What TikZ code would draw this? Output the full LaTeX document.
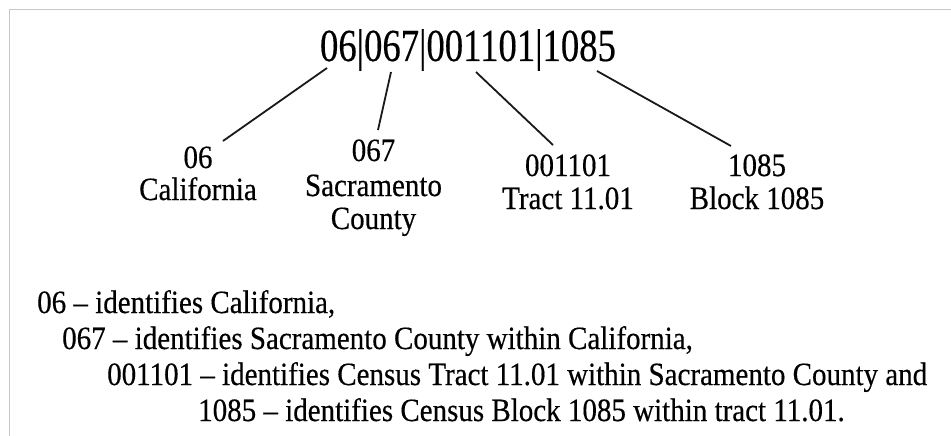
\documentclass[tikz,border=0pt]{standalone}
\usepackage{graphicx}
\usepackage{fontspec}
\setmainfont{Liberation Serif}[FakeBold=0.4]
\newcommand\vstretch[2]{\scalebox{1}[#1]{#2}}
\begin{document}
\begin{tikzpicture}[x=1pt,y=-1pt,
  lbl/.style={anchor=base,inner sep=0pt,font=\fontsize{29}{33}\selectfont},
  txt/.style={anchor=base west,inner sep=0pt,font=\fontsize{29}{33}\selectfont},
  conn/.style={line width=1.8pt,black!90}]
\useasboundingbox (0,0) rectangle (951,436);
\fill[white] (0,0) rectangle (951,436);
% frame
\draw[line width=1.8pt,black!22] (9.5,436) -- (9.5,9.5) -- (951,9.5);
% title
\node[anchor=base,inner sep=0pt,font=\fontsize{36.7}{40}\selectfont] (title) at (468,61) {\vstretch{1.25}{06|067|001101|1085}};
% labels
\node[lbl] (l1a) at (198,168) {\vstretch{1.12}{06}};
\node[lbl] (l1b) at (198,200) {\vstretch{1.12}{California}};
\node[lbl] (l2a) at (373.5,161) {\vstretch{1.12}{067}};
\node[lbl] (l2b) at (373.5,196) {\vstretch{1.12}{Sacramento}};
\node[lbl] (l2c) at (373.5,229) {\vstretch{1.12}{County}};
\node[lbl] (l3a) at (568,176) {\vstretch{1.12}{001101}};
\node[lbl] (l3b) at (568,209) {\vstretch{1.12}{Tract 11.01}};
\node[lbl] (l4a) at (757,176) {\vstretch{1.12}{1085}};
\node[lbl] (l4b) at (757,209) {\vstretch{1.12}{Block 1085}};
% connector ends
\coordinate (a1) at (327,68);  \coordinate (b1) at (223,141);
\coordinate (a2) at (391,72);  \coordinate (b2) at (378,130);
\coordinate (a3) at (476,72);  \coordinate (b3) at (553,145);
\coordinate (a4) at (597,71);  \coordinate (b4) at (731,146);
\draw[conn] (a1) -- (b1);
\draw[conn] (a2) -- (b2);
\draw[conn] (a3) -- (b3);
\draw[conn] (a4) -- (b4);
% explanation
\node[txt] (e1) at (37,313) {\vstretch{1.12}{06 – identifies California,}};
\node[txt] (e2) at (62,349) {\vstretch{1.12}{067 – identifies Sacramento County within California,}};
\node[txt] (e3) at (107,385) {\vstretch{1.12}{001101 – identifies Census Tract 11.01 within Sacramento County and}};
\node[txt] (e4) at (198,421) {\vstretch{1.12}{1085 – identifies Census Block 1085 within tract 11.01.}};
\end{tikzpicture}
\end{document}
